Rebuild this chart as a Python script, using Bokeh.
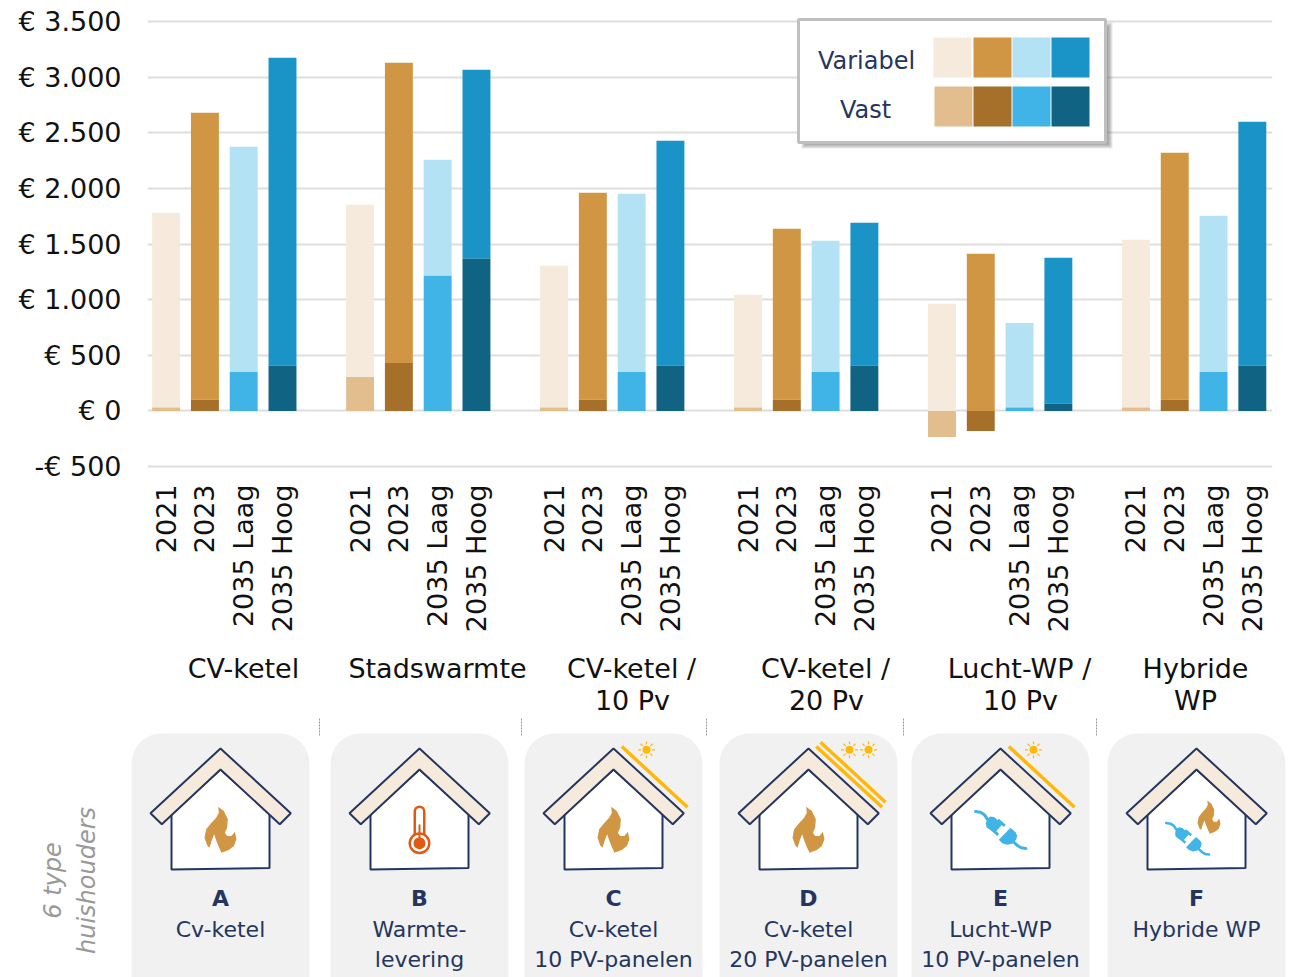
import math
from bokeh.plotting import figure
from bokeh.layouts import column
from bokeh.models import Range1d, FixedTicker, LinearAxis, Grid
from bokeh.core.properties import value
from bokeh.embed import file_html
from bokeh.resources import INLINE

FONT = "DejaVu Sans"
NAVY = "#24365F"
SUN = "#FFB80A"

# ---- data -------------------------------------------------------------
series = ["2021", "2023", "2035 Laag", "2035 Hoog"]
vast_2021 = [30, 305, 30, 30, -234, 30]
vast_2023 = [100, 430, 100, 100, -180, 100]
vast_laag = [350, 1214, 350, 350, 30, 350]
vast_hoog = [405, 1367, 405, 405, 65, 405]
variabel_2021 = [1750, 1547, 1274, 1013, 962, 1508]
variabel_2023 = [2580, 2700, 1860, 1537, 1412, 2220]
variabel_laag = [2024, 1043, 1601, 1179, 761, 1404]
variabel_hoog = [2770, 1700, 2023, 1285, 1311, 2194]
vast_colors = ["#E2BE8E", "#A66F2A", "#40B4E6", "#116384"]
variabel_colors = ["#F5EADB", "#D09643", "#B3E2F5", "#1A94C7"]
y_ticks = [-500, 0, 500, 1000, 1500, 2000, 2500, 3000, 3500]
y_labels = ["-€ 500", "€ 0", "€ 500", "€ 1.000", "€ 1.500", "€ 2.000", "€ 2.500", "€ 3.000", "€ 3.500"]
group_labels = [["CV-ketel"], ["Stadswarmte"], ["CV-ketel /", "10 Pv"], ["CV-ketel /", "20 Pv"], ["Lucht-WP /", "10 Pv"], ["Hybride", "WP"]]
group_label_x = [243, 437, 631, 825, 1019, 1195]
card_letters = ["A", "B", "C", "D", "E", "F"]
card_line1 = ["Cv-ketel", "Warmte-", "Cv-ketel", "Cv-ketel", "Lucht-WP", "Hybride WP"]
card_line2 = ["", "levering", "10 PV-panelen", "20 PV-panelen", "10 PV-panelen", ""]
card_left = [131, 330, 524, 719, 911, 1107]
card_apex = [220, 419, 613, 808, 1000, 1196]
separators = [319, 521, 706, 903, 1096]

vast = [vast_2021, vast_2023, vast_laag, vast_hoog]
variabel = [variabel_2021, variabel_2023, variabel_laag, variabel_hoog]

# ---- chart ------------------------------------------------------------
TOP_H = 717
BAND_TOP = 640
FRAME_B = 468
PX_PER_EUR = 55.625 / 500
p = figure(width=1291, height=TOP_H, output_backend="svg", toolbar_location=None,
           x_range=Range1d(0.02, 29.02),
           y_range=Range1d(-500 - (FRAME_B - 466) / PX_PER_EUR, -500 + 466 / PX_PER_EUR),
           x_axis_type=None, y_axis_type=None,
           min_border_left=147, min_border_right=19, min_border_top=0, min_border_bottom=TOP_H - FRAME_B,
           outline_line_color=None, background_fill_color=None, border_fill_color=None)
p.frame_align = False
p.extra_x_ranges = {"px": Range1d(147, 1272)}
p.extra_y_ranges = {"px": Range1d(FRAME_B, 0)}

yaxis = LinearAxis(ticker=FixedTicker(ticks=y_ticks),
                   major_label_overrides=dict(zip(y_ticks, y_labels)),
                   axis_line_color=None, major_tick_line_color=None, minor_tick_line_color=None,
                   major_label_standoff=20, major_label_text_font=FONT,
                   major_label_text_font_size="27px", major_label_text_color="#111111")
p.add_layout(yaxis, "left")
x_ticks = [g * 5 + j + 0.5 for g in range(6) for j in range(4)]
xaxis = LinearAxis(ticker=FixedTicker(ticks=x_ticks),
                   major_label_overrides={t: series[i % 4] for i, t in enumerate(x_ticks)},
                   major_label_orientation=math.pi / 2,
                   axis_line_color=None, major_tick_line_color=None, minor_tick_line_color=None,
                   major_label_standoff=10, major_label_text_font=FONT,
                   major_label_text_font_size="27px", major_label_text_color="#111111")
p.add_layout(xaxis, "below")
p.add_layout(Grid(dimension=1, ticker=FixedTicker(ticks=y_ticks), grid_line_color="#DEDEDE", grid_line_width=2))

for j in range(4):
    xs = [g * 5 + j + 0.5 for g in range(6)]
    base = [max(v, 0) for v in vast[j]]
    tops = [b + v for b, v in zip(base, variabel[j])]
    p.vbar(x=xs, bottom=base, top=tops, width=0.72, fill_color=variabel_colors[j], line_color=None)
    p.vbar(x=xs, bottom=0, top=vast[j], width=0.72, fill_color=vast_colors[j], line_color=None)

# legend, in page pixels
def pquad(l, r, t, b, **kw):
    p.quad(left=l, right=r, top=t, bottom=b, x_range_name="px", y_range_name="px", line_color=None, **kw)

for k in range(5):
    pquad(801 + k, 1112 - k, 22 + k, 148 - k, fill_color="#555555", fill_alpha=0.13)
p.quad(left=798, right=1105, top=19, bottom=142, x_range_name="px", y_range_name="px",
       fill_color="white", line_color="#BFBFBF", line_width=3)
row1 = [933, 973, 1012, 1051]
row2 = [934, 973, 1012, 1051]
for j in range(4):
    pquad(row1[j], row1[j] + 38, 37, 77, fill_color=variabel_colors[j])
    pquad(row2[j], row2[j] + 38, 86, 126, fill_color=vast_colors[j])
p.text(x=[866, 865], y=[60, 109], text=["Variabel", "Vast"], x_range_name="px", y_range_name="px",
       text_font=value(FONT), text_font_size="24px", text_color=NAVY, text_align="center", text_baseline="middle")

# ---- pictogram band, in page pixels; it overlaps the empty foot of the chart
q = figure(width=1291, height=977 - BAND_TOP, output_backend="svg", toolbar_location=None,
           x_range=Range1d(0, 1291), y_range=Range1d(977, BAND_TOP),
           x_axis_type=None, y_axis_type=None,
           min_border_left=0, min_border_right=0, min_border_top=0, min_border_bottom=0,
           outline_line_color=None, background_fill_color=None, border_fill_color=None,
           margin=(BAND_TOP - TOP_H, 0, 0, 0))
q.frame_align = False

def label(x, y, text, size, color="#111111", style="normal", angle=0.0):
    q.text(x=[x], y=[y], text=[text], text_font=value(FONT), text_font_size=size, text_color=color,
           text_font_style=style, text_align="center", text_baseline="middle", angle=angle)

for gx, lines in zip(group_label_x, group_labels):
    for n, line in enumerate(lines):
        label(gx + (1 if n else 0) * (gx != 1195), 668 + 32 * n, line, "27px")

q.segment(x0=separators, x1=separators, y0=718, y1=736, line_color="#999999", line_width=1, line_dash="2 1")

label(52, 880, "6 type", "24px", "#999999", "italic", math.pi / 2)
label(86, 880, "huishouders", "24px", "#999999", "italic", math.pi / 2)

FLAME = [(68, 17), (85, 30), (97, 55), (95, 80), (88, 95), (95, 105), (108, 105), (118, 92), (123, 115),
         (115, 135), (100, 147), (78, 155), (70, 138), (62, 118), (56, 100), (50, 115), (42, 140), (35, 133),
         (27, 110), (32, 85), (48, 65), (62, 50), (70, 35)]
PLUG_HEAD = [(46, 68), (50, 55), (60, 48), (72, 50), (95, 72), (74, 96), (58, 88), (48, 80)]
PLUG_SOCKET = [(120, 82), (85, 118), (95, 128), (110, 133), (125, 130), (137, 118), (140, 105), (135, 95)]
CORD1 = [(15, 33), (30, 35), (42, 43), (50, 55)]
CORD2 = [(130, 125), (142, 136), (152, 142), (166, 144)]
PRONG1 = [(82, 58), (103, 76)]
PRONG2 = [(64, 86), (83, 103)]

def flame(cx, cy, s):
    xs = [cx + (a / 3 - 25) * s for a, b in FLAME]
    ys = [cy + (b / 3 - 28.5) * s for a, b in FLAME]
    q.patch(xs, ys, fill_color="#D09643", line_color=None)

def plug(cx, cy, s):
    tx = lambda pts: [cx + (a / 3 - 30) * s for a, b in pts]
    ty = lambda pts: [cy + (b / 3 - 29.5) * s for a, b in pts]
    for shape in (PLUG_HEAD, PLUG_SOCKET):
        q.patch(tx(shape), ty(shape), fill_color="#40B4E6", line_color=None)
    q.line(tx(CORD1), ty(CORD1), line_color="#40B4E6", line_width=3 * s, line_cap="round")
    q.line(tx(CORD2), ty(CORD2), line_color="#40B4E6", line_width=3 * s, line_cap="round")
    for pr in (PRONG1, PRONG2):
        q.line(tx(pr), ty(pr), line_color="#40B4E6", line_width=3 * s)

def thermo(cx):
    q.line([cx, cx], [811, 842], line_color="#E05A14", line_width=12, line_cap="round")
    q.line([cx, cx], [811, 842], line_color="white", line_width=7, line_cap="round")
    q.scatter([cx], [842.7], size=22, marker="circle", fill_color="#E05A14", line_color=None)
    q.scatter([cx], [842.7], size=17, marker="circle", fill_color="white", line_color=None)
    q.scatter([cx], [842.7], size=12, marker="circle", fill_color="#E05A14", line_color=None)
    q.line([cx, cx], [824, 842], line_color="#E05A14", line_width=2)

def sun(cx, cy):
    q.scatter([cx], [cy], size=8, marker="circle", fill_color=SUN, line_color=None)
    for k in range(8):
        a = k * math.pi / 4
        q.line([cx + 5.5 * math.cos(a), cx + 8.5 * math.cos(a)], [cy + 5.5 * math.sin(a), cy + 8.5 * math.sin(a)],
               line_color=SUN, line_width=1.2)

for i in range(6):
    L, ax = card_left[i], card_apex[i]
    q.quad(left=L, right=L + 178, top=733, bottom=1020, fill_color="#F1F1F1", line_color=None, border_radius=30)
    body = [(0, 21), (49, 65), (49, 119.5), (-49, 121), (-49, 65)]
    q.patch([ax + a for a, b in body], [748 + b for a, b in body], fill_color="white", line_color=NAVY, line_width=2)
    roof = [(0, 0), (70.3, 64.7), (59.3, 75.7), (0, 21), (-58.7, 75.7), (-70, 64.7)]
    q.patch([ax + a for a, b in roof], [748 + b for a, b in roof], fill_color="#F5EADB", line_color=NAVY, line_width=2)
    if i in (0, 2, 3):
        flame(ax, 829, 1)
    if i == 1:
        thermo(ax)
    if i == 4:
        plug(ax, 829.5, 1)
    if i == 5:
        flame(ax + 12.5, 816.5, 0.72)
        plug(ax - 9, 838.3, 0.85)
    if i in (2, 4):
        q.line([ax + 8.3, ax + 74], [746, 806.7], line_color=SUN, line_width=3.5)
        sun(ax + 33, 749.3)
    if i == 3:
        q.line([ax + 12, ax + 77], [741.7, 801.7], line_color=SUN, line_width=3.5)
        q.line([ax + 7.7, ax + 73.7], [746, 806.7], line_color=SUN, line_width=3.5)
        sun(ax + 41, 749.3)
        sun(ax + 60, 749.3)
    label(ax, 898, card_letters[i], "22px", NAVY, "bold")
    label(ax, 929, card_line1[i], "22px", NAVY)
    if card_line2[i]:
        label(ax, 959, card_line2[i], "22px", NAVY)

page = column(p, q, spacing=0)
open("out.html", "w").write(file_html(page, INLINE))
